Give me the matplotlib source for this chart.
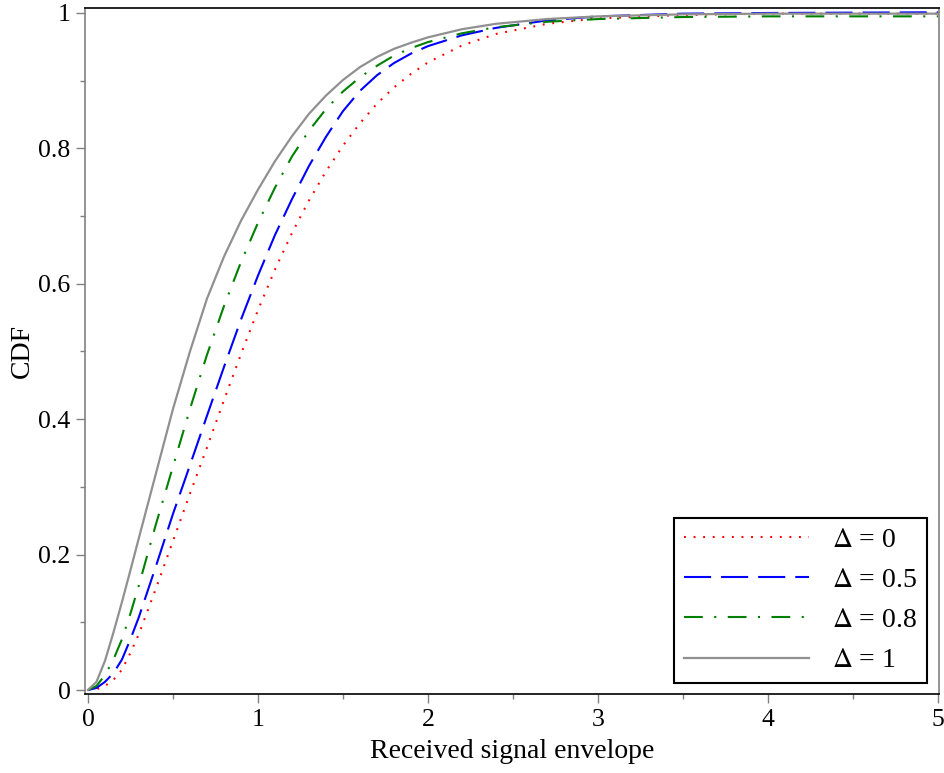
import numpy as np
import matplotlib
matplotlib.use("Agg")
import matplotlib.pyplot as plt
from matplotlib.ticker import MultipleLocator

plt.rcParams['font.family'] = ['Liberation Serif', 'DejaVu Serif']
plt.rcParams['mathtext.fontset'] = 'stix'

# values
x_pts = [0, 0.05, 0.1, 0.15, 0.2, 0.25, 0.3, 0.4, 0.5, 0.6, 0.7, 0.8, 0.9, 1.0,
         1.1, 1.2, 1.3, 1.4, 1.5, 1.6, 1.7, 1.8, 1.9, 2.0, 2.2, 2.4, 2.7, 3.0,
         3.5, 4.0, 5.0]

cdf_d0 = [0, 0.001, 0.006, 0.015, 0.03, 0.055, 0.083, 0.15, 0.22, 0.29, 0.358,
          0.428, 0.496, 0.561, 0.621, 0.675, 0.723, 0.766, 0.804, 0.837, 0.866,
          0.89, 0.91, 0.927, 0.952, 0.969, 0.984, 0.992, 0.997, 0.999, 0.999]
cdf_d05 = [0, 0.003, 0.012, 0.025, 0.045, 0.075, 0.108, 0.183, 0.26, 0.332, 0.405,
           0.477, 0.547, 0.612, 0.672, 0.725, 0.774, 0.817, 0.855, 0.885, 0.908,
           0.926, 0.94, 0.951, 0.967, 0.978, 0.989, 0.995, 0.999, 1.0, 1.001]
cdf_d08 = [0, 0.006, 0.022, 0.045, 0.075, 0.113, 0.155, 0.245, 0.33, 0.415, 0.495,
           0.567, 0.632, 0.69, 0.742, 0.788, 0.826, 0.858, 0.884, 0.905, 0.922,
           0.937, 0.948, 0.957, 0.970, 0.979, 0.987, 0.991, 0.994, 0.995, 0.995]
cdf_d1 = [0, 0.012, 0.043, 0.085, 0.13, 0.177, 0.225, 0.32, 0.415, 0.50, 0.578,
          0.640, 0.693, 0.739, 0.781, 0.818, 0.851, 0.878, 0.901, 0.920, 0.935,
          0.947, 0.956, 0.964, 0.976, 0.984, 0.991, 0.995, 0.998, 0.999, 0.999]

labels = [r'$\Delta$ = 0', r'$\Delta$ = 0.5', r'$\Delta$ = 0.8', r'$\Delta$ = 1']

fig = plt.figure(figsize=(9.44, 7.73), dpi=100)
ax = fig.add_axes([0.090, 0.1022, 0.9047, 0.8875])

ax.plot(x_pts, cdf_d0, color='#ff0000', lw=1.5, ls=(0, (0.9, 3.7)), label=labels[0])
ax.plot(x_pts, cdf_d05, color='#0000ff', lw=1.5, ls=(0, (13, 4.8)), label=labels[1])
ax.plot(x_pts, cdf_d08, color='#008000', lw=1.5, ls=(0, (9, 5.5, 1, 5.5)), label=labels[2])
ax.plot(x_pts, cdf_d1, color='#909090', lw=1.6, ls='-', label=labels[3])

ax.set_xlim(-0.0176, 5.006)
ax.set_ylim(-0.0059, 1.0074)

ax.xaxis.set_minor_locator(MultipleLocator(0.5))
ax.yaxis.set_minor_locator(MultipleLocator(0.1))
ax.set_xticks([0, 1, 2, 3, 4, 5])
ax.set_xticklabels(['0', '1', '2', '3', '4', '5'])
ax.set_yticks([0, 0.2, 0.4, 0.6, 0.8, 1.0])
ax.set_yticklabels(['0', '0.2', '0.4', '0.6', '0.8', '1'])

ax.tick_params(which='major', direction='out', length=6.5, width=1.0,
               color='#808080', labelsize=18.5, pad=4)
ax.tick_params(which='minor', direction='out', length=3.6, width=1.0, color='#808080')

for side in ['left', 'right']:
    ax.spines[side].set_color('#808080')
    ax.spines[side].set_linewidth(1.2)
for side in ['top', 'bottom']:
    ax.spines[side].set_color('black')
    ax.spines[side].set_linewidth(1.2)

ax.set_xlabel('Received signal envelope', fontsize=20, labelpad=6)
ax.set_ylabel('CDF', fontsize=20, labelpad=2)

leg = ax.legend(loc='lower right', bbox_to_anchor=(0.986, 0.016), borderaxespad=0,
                fontsize=20, handlelength=4.5, handletextpad=0.83, labelspacing=0.53,
                borderpad=0.35, fancybox=False, framealpha=1, edgecolor='black')
leg.get_frame().set_linewidth(1.5)

fig.savefig('out.png', dpi=100)
